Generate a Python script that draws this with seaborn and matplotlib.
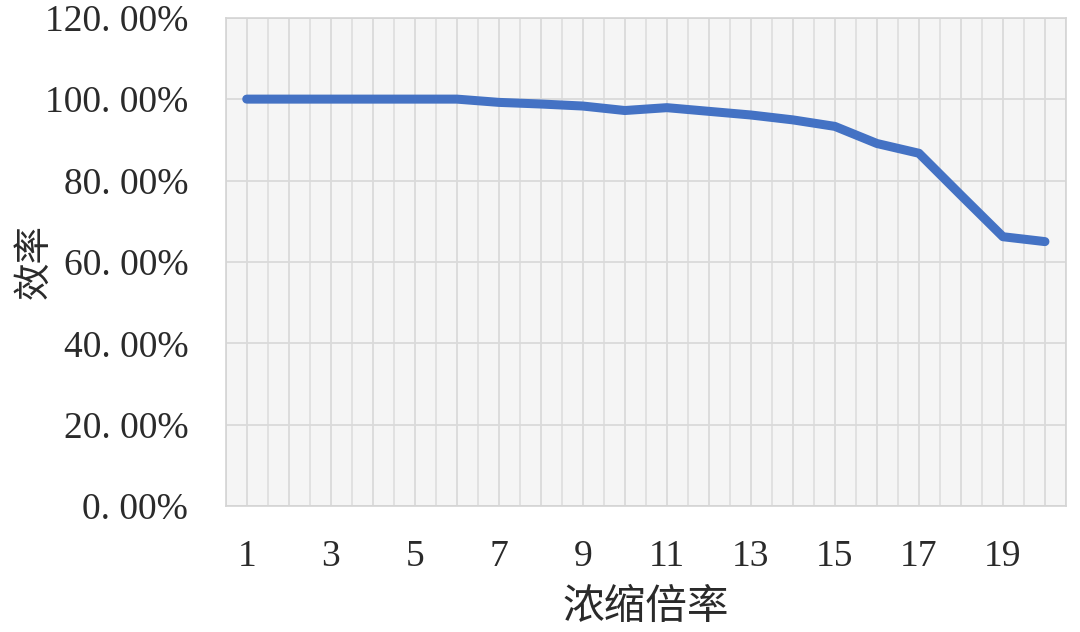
import numpy as np
import pandas as pd
import matplotlib
matplotlib.use("Agg")
import matplotlib.pyplot as plt
import seaborn as sns

# concentration ratio (x) and efficiency in % (y)
ratio = list(range(1, 21))
efficiency = [100.0, 100.0, 100.0, 100.0, 100.0, 100.0, 99.2, 98.8, 98.3, 97.2,
              97.9, 97.0, 96.1, 94.9, 93.3, 89.1, 86.7, 76.4, 66.2, 65.0]
y_ticks = [0, 20, 40, 60, 80, 100, 120]
x_label_ticks = [1, 3, 5, 7, 9, 11, 13, 15, 17, 19]

df = pd.DataFrame({"ratio": ratio, "efficiency": efficiency})

sns.set_theme(style="white")
plt.rcParams["font.family"] = ["Liberation Serif", "Noto Sans CJK SC", "DejaVu Sans"]

fig = plt.figure(figsize=(10.8, 6.32), dpi=100)
ax = fig.add_axes([0.209, 0.199, 0.778, 0.773])
ax.set_facecolor("#f5f5f5")

sns.lineplot(data=df, x="ratio", y="efficiency", ax=ax, color="#4472C4",
             linewidth=6.5, solid_capstyle="round", solid_joinstyle="round")

ax.set_xlim(0.5, 20.5)
ax.set_ylim(0, 120)

ax.set_xticks(ratio)
ax.set_xticklabels([str(r) if r in x_label_ticks else "" for r in ratio])
ax.set_xticks(np.arange(0.5, 21, 1), minor=True)
ax.set_yticks(y_ticks)
# labels as shown in the source: "120. 00%"
ax.set_yticklabels([f"{v:.2f}%".replace(".", ". ") for v in y_ticks])

ax.grid(True, which="major", axis="both", color="#dadada", linewidth=1.3)
ax.grid(True, which="minor", axis="x", color="#dedede", linewidth=1.2)
ax.set_axisbelow(True)

ax.tick_params(axis="both", which="both", length=0, labelsize=27, colors="#2a2a2a")
ax.tick_params(axis="y", pad=27)
ax.tick_params(axis="x", pad=24)

for s in ax.spines.values():
    s.set_color("#d4d4d4")
    s.set_linewidth(1.2)

ax.set_xlabel("浓缩倍率", fontsize=30, color="#2a2a2a", labelpad=9,
              family=["Noto Sans CJK SC", "DejaVu Sans"], fontweight="light")
ax.set_ylabel("效率", fontsize=27, color="#2a2a2a", labelpad=-6,
              family=["Noto Sans CJK SC", "DejaVu Sans"], fontweight="light")

fig.savefig("out.png", dpi=100)
